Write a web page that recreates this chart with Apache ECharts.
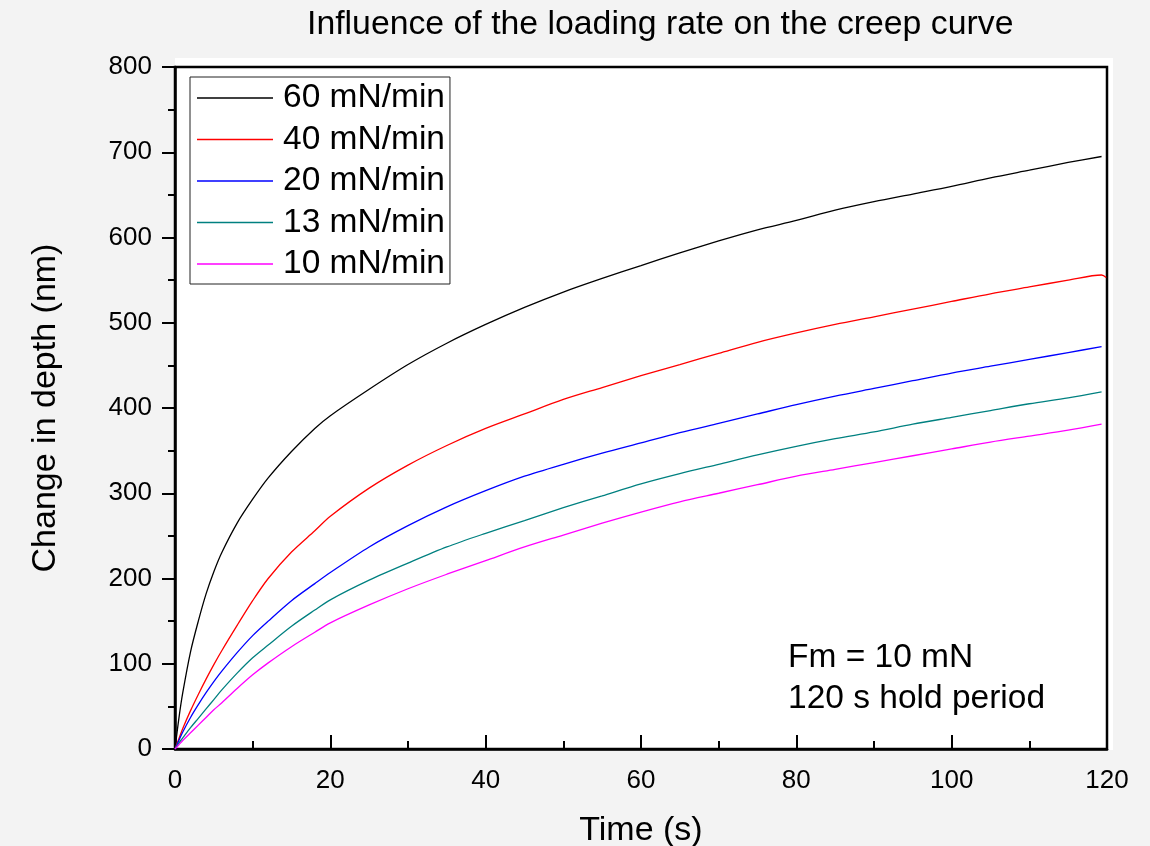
<!DOCTYPE html>
<html>
<head>
<meta charset="utf-8">
<script src="https://cdn.jsdelivr.net/npm/echarts@6/dist/echarts.min.js"></script>
<style>
html,body{margin:0;padding:0;background:#f3f3f3;}
#c{width:1150px;height:846px;}
</style>
</head>
<body>
<div id="c"></div>
<script>
// Time (s)
var times = [0,0.5,1,2,3,4,5,6,8,10,12,15,18,20,25,30,35,40,45,50,55,60,65,70,75,80,85,90,95,100,105,110,115,119.3];
// Change in depth (nm)
var rate60 = [0,36,66,114,150,182,208,230,265,293,318,349,376,391,422,451,476,498,518,536,552,567,582,596,609,620,632,642,651,660,670,679,688,695];
var rate40 = [0,12,24,45,64,82,99,115,145,174,200,231,256,273,306,333,356,376,393,410,424,438,451,464,477,488,498,507,516,525,534,542,550,556];
var rate40Tail = [[119.9,553]];
var rate20 = [0,10,20,37,52,66,79,91,113,133,150,174,194,207,237,262,284,303,320,334,347,359,371,382,393,404,414,423,432,441,449,457,465,472];
var rate13 = [0,7,13,25,36,47,58,69,89,107,122,144,163,175,198,218,237,253,268,283,297,311,323,334,345,355,364,372,381,389,397,405,412,419];
var rate10 = [0,5,10,19,28,37,46,54,71,87,101,120,137,148,169,188,205,221,237,251,265,278,290,300,310,320,328,336,344,352,360,367,374,381];

var names = ['60 mN/min','40 mN/min','20 mN/min','13 mN/min','10 mN/min'];
var colors = ['#000000','#ff0000','#0000ff','#008080','#ff00ff'];
var values = [rate60, rate40, rate20, rate13, rate10];

function pairs(vals){ return times.map(function(t,i){ return [t, vals[i]]; }); }

var series = values.map(function(v, k){
  var d = pairs(v);
  if (k === 1) d = d.concat(rate40Tail);
  return {
    name: names[k], type: 'line', data: d, symbol: 'none', showSymbol: false,
    smooth: 0.3,
    lineStyle: {color: colors[k], width: 1.3}, itemStyle: {color: colors[k]}, z: 3
  };
});

var font = 'Liberation Sans, Arial, sans-serif';
var chart = echarts.init(document.getElementById('c'));
chart.setOption({
  backgroundColor: '#f3f3f3',
  animation: false,
  title: {
    text: 'Influence of the loading rate on the creep curve',
    left: 307, top: 8, padding: 0,
    textStyle: {fontFamily: font, fontSize: 33.8, fontWeight: 'normal', color: '#000', lineHeight: 34}
  },
  graphic: [
    {type: 'rect', z: -1, shape: {x: 175, y: 58, width: 938, height: 692}, style: {fill: '#ffffff'}},
    {type: 'text', z: 10, x: 788, y: 637, style: {text: 'Fm = 10 mN\n120 s hold period', fontFamily: font, fontSize: 33.5, lineHeight: 41, fill: '#000'}}
  ],
  legend: {
    orient: 'vertical', left: 190, top: 77,
    padding: [3, 5, 2, 7], itemGap: 5.5, itemWidth: 76, itemHeight: 1.3,
    icon: 'rect',
    backgroundColor: '#ffffff', borderColor: '#222', borderWidth: 1,
    textStyle: {fontFamily: font, fontSize: 33.5, lineHeight: 36, color: '#000', padding: [0,0,0,5]},
    data: names
  },
  grid: {left: 175, right: 43, top: 67, bottom: 97, containLabel: false, outerBoundsMode: 'none',
         show: true, borderColor: '#000', borderWidth: 2.5, backgroundColor: 'transparent'},
  xAxis: {
    type: 'value', min: 0, max: 120, interval: 20,
    name: 'Time (s)', nameLocation: 'middle', nameGap: 65,
    nameTextStyle: {fontFamily: font, fontSize: 34, color: '#000'},
    axisLine: {show: true, lineStyle: {color: '#000', width: 2.5}},
    axisTick: {show: true, inside: true, length: 14, lineStyle: {color: '#000', width: 2}},
    minorTick: {show: true, splitNumber: 2, length: 8, lineStyle: {color: '#000', width: 2}},
    axisLabel: {fontFamily: font, fontSize: 26, color: '#000', margin: 19},
    splitLine: {show: false}
  },
  yAxis: {
    type: 'value', min: 0, max: 800, interval: 100,
    name: 'Change in depth (nm)', nameLocation: 'middle', nameGap: 112,
    nameTextStyle: {fontFamily: font, fontSize: 34, color: '#000'},
    axisLine: {show: true, lineStyle: {color: '#000', width: 2.5}},
    axisTick: {show: true, inside: false, length: 13, lineStyle: {color: '#000', width: 2}},
    minorTick: {show: true, splitNumber: 2, length: 7, lineStyle: {color: '#000', width: 2}},
    axisLabel: {fontFamily: font, fontSize: 26, color: '#000', margin: 23},
    splitLine: {show: false}
  },
  series: series
});
</script>
</body>
</html>
